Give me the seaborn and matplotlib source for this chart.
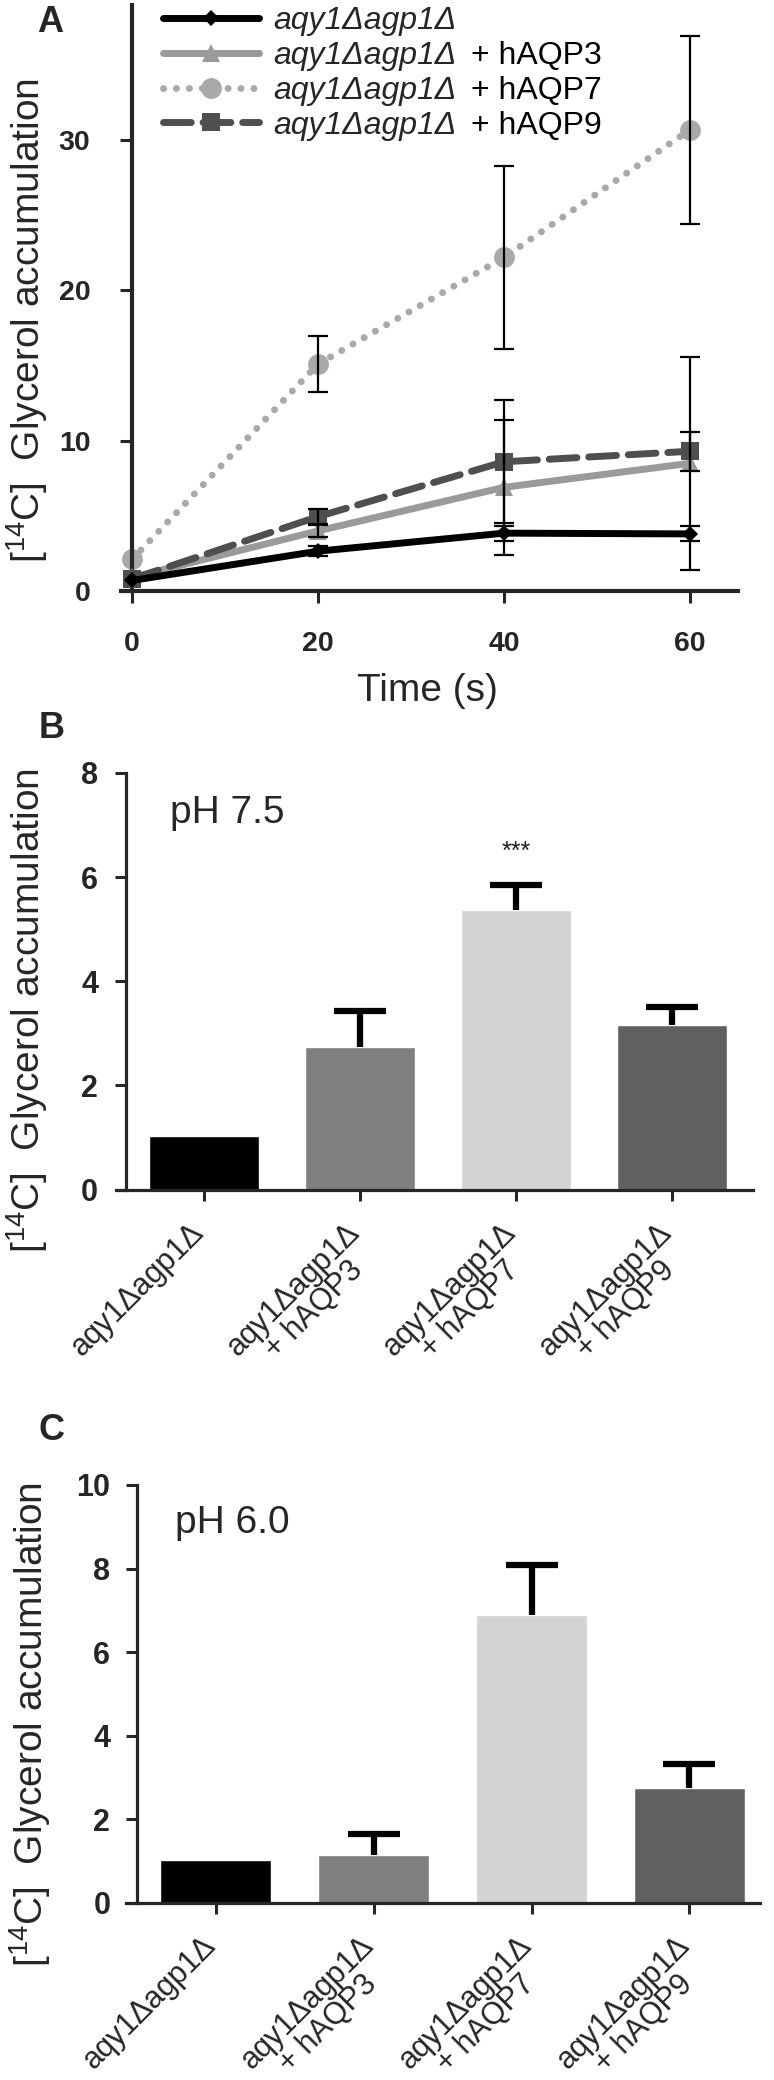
import matplotlib
matplotlib.use("Agg")
import matplotlib.pyplot as plt
import seaborn as sns
import numpy as np
from matplotlib.offsetbox import TextArea
from matplotlib.transforms import ScaledTranslation

# ---------------- data ----------------
time_s = [0, 20, 40, 60]
strain_base = "aqy1Δagp1Δ"
suffixes = ["", "+ hAQP3", "+ hAQP7", "+ hAQP9"]

ctrl_vals = [0.7, 2.65, 3.85, 3.8]
ctrl_err = [0.0, 0.35, 0.5, 0.5]
aqp3_vals = [0.9, 4.0, 6.9, 8.5]
aqp3_err = [0.0, 0.4, 4.5, 7.1]
aqp7_vals = [2.1, 15.1, 22.2, 30.7]
aqp7_err = [0.0, 1.85, 6.1, 6.25]
aqp9_vals = [0.8, 4.95, 8.6, 9.3]
aqp9_err = [0.0, 0.5, 4.1, 1.3]

bar_labels = ["aqy1Δagp1Δ", "aqy1Δagp1Δ\n+ hAQP3", "aqy1Δagp1Δ\n+ hAQP7", "aqy1Δagp1Δ\n+ hAQP9"]
ph75_vals = [1.03, 2.73, 5.37, 3.16]
ph75_err = [0.0, 0.69, 0.47, 0.35]
ph60_vals = [1.04, 1.15, 6.9, 2.76]
ph60_err = [0.0, 0.5, 1.18, 0.57]

ylab = r"[$^{14}$C]  Glycerol accumulation"

# ---------------- style ----------------
sns.set_theme(style="ticks")
plt.rcParams["font.family"] = ["Liberation Sans", "DejaVu Sans"]
plt.rcParams["mathtext.fontset"] = "custom"
plt.rcParams["mathtext.rm"] = "Liberation Sans"
plt.rcParams["mathtext.it"] = "Liberation Sans:italic"
plt.rcParams["mathtext.bf"] = "Liberation Sans:bold"

W, H = 774, 2080
fig = plt.figure(figsize=(W / 100, H / 100), dpi=100)
fig.patch.set_facecolor("white")
R = fig.canvas.get_renderer()


def px_axes(left, top, right, bottom):
    return fig.add_axes([left / W, 1 - bottom / H, (right - left) / W, (bottom - top) / H])


# ---------------- panel A ----------------
axA = px_axes(121, 5, 738, 591)
series = [
    (ctrl_vals, ctrl_err, dict(color="#000000", marker="D", markersize=8.5, linestyle="-"), 5),
    (aqp3_vals, aqp3_err, dict(color="#9a9a9a", marker="^", markersize=13, linestyle="-"), 3),
    (aqp7_vals, aqp7_err, dict(color="#a9a9a9", marker="o", markersize=15, linestyle=(0, (0.01, 1.85))), 2),
    (aqp9_vals, aqp9_err, dict(color="#4f4f4f", marker="s", markersize=13, linestyle=(0, (4.0, 1.7))), 4),
]
handles = []
for vals, errs, st, z in series:
    sns.lineplot(x=time_s, y=vals, ax=axA, linewidth=5, markeredgewidth=0,
                 zorder=z, clip_on=False, errorbar=None, **st)
    ln = axA.lines[-1]
    ln.set_dash_capstyle("round")
    handles.append(ln)
for vals, errs, st, z in series:
    idx = [i for i, e in enumerate(errs) if e > 0]
    axA.errorbar([time_s[i] for i in idx], [vals[i] for i in idx],
                 yerr=[errs[i] for i in idx], fmt="none", ecolor="black",
                 elinewidth=1.6, capsize=7, capthick=1.6, zorder=4.5, clip_on=False)

axA.set_xlim(-1.18, 65.16)
axA.set_ylim(0, 39)
axA.spines["left"].set_position(("data", 0))
axA.spines[["top", "right"]].set_visible(False)
for s in ["left", "bottom"]:
    axA.spines[s].set_linewidth(3)
axA.set_xticks([0, 20, 40, 60])
axA.set_yticks([0, 10, 20, 30])
axA.tick_params(axis="both", width=2.2, length=8.5, labelsize=20.5, direction="out")
axA.tick_params(axis="y", pad=21.5)
axA.tick_params(axis="x", pad=20)
for lab in axA.get_xticklabels() + axA.get_yticklabels():
    lab.set_fontweight("bold")
axA.set_xlabel("")
axA.set_ylabel("")
fig.text(427 / W, 1 - 691 / H, "Time (s)", ha="center", va="center", fontsize=28)

anchor = [160 / W, 1 - 1 / H]
leg = axA.legend(handles=handles, labels=[strain_base] * 4, loc="upper left",
                 bbox_to_anchor=tuple(anchor), bbox_transform=fig.transFigure,
                 frameon=False, borderpad=0, borderaxespad=0, handlelength=3.0,
                 handletextpad=0.45, labelspacing=0.1, numpoints=1,
                 prop=dict(family="Liberation Sans", style="italic", size=23))
vp = None
try:
    vp = leg._legend_handle_box.get_children()[0]
    rows = vp.get_children()
    for row, suf in zip(rows, suffixes):
        if suf:
            ta = TextArea(suf, textprops=dict(family="Liberation Sans", size=23, color="black"))
            ta.set_figure(fig)
            row.get_children().append(ta)
except Exception:
    vp = None

# ---------------- bar panels ----------------
bar_colors = ["#000000", "#808080", "#d3d3d3", "#606060"]
XT_SIZE = 22
XT_LEN = 8        # tick length, pt
XT_PAD = 12       # tick label pad, pt
XT_SHIFT = -15    # px, horizontal shift of the rotated labels
LINE_PITCH = 29   # px between the two label lines

line1 = [l.split("\n")[0] for l in bar_labels]
line2 = [l.split("\n")[1] if "\n" in l else "" for l in bar_labels]
_tmp = fig.text(0, 0, line1[0], fontsize=XT_SIZE)
W1 = _tmp.get_window_extent(R).width
_tmp.remove()


def bar_panel(ax, vals, errs, ymax, yticks, xlim, ypad):
    sns.barplot(x=bar_labels, y=vals, hue=bar_labels, palette=bar_colors, width=0.7,
                saturation=1, errorbar=None, legend=False, ax=ax, zorder=2)
    idx = [i for i, e in enumerate(errs) if e > 0]
    base = [vals[i] for i in idx]
    eb = ax.errorbar(idx, base,
                     yerr=[[0] * len(idx), [errs[i] for i in idx]], fmt="none",
                     ecolor="black", elinewidth=4.5, capsize=18.5, capthick=4.5, zorder=3)
    for cl in eb.lines[1]:
        if np.allclose(cl.get_ydata(), base):
            cl.set_visible(False)
    ax.set_xlim(*xlim)
    ax.set_ylim(0, ymax)
    ax.spines["left"].set_position(("data", -0.5))
    ax.spines[["top", "right"]].set_visible(False)
    for s in ["left", "bottom"]:
        ax.spines[s].set_linewidth(2.3)
    ax.set_yticks(yticks)
    ax.set_xticks(range(4))
    ax.set_xticklabels(line1, rotation=45, ha="right", va="top",
                       rotation_mode="anchor", fontsize=XT_SIZE)
    ax.tick_params(axis="both", width=2.2, length=XT_LEN, direction="out")
    ax.tick_params(axis="y", labelsize=22, pad=ypad)
    ax.tick_params(axis="x", pad=XT_PAD)
    for lab in ax.get_yticklabels():
        lab.set_fontweight("bold")
    off = ScaledTranslation(XT_SHIFT / 100, 0, fig.dpi_scale_trans)
    for lab in ax.get_xticklabels():
        lab.set_transform(lab.get_transform() + off)
    # second label line, centred under the first one (rotated frame)
    c = np.sqrt(0.5)
    dx = XT_SHIFT - c * W1 / 2 + c * LINE_PITCH
    dy = -(XT_LEN + XT_PAD) * 100 / 72 - c * W1 / 2 - c * LINE_PITCH
    tr = ax.get_xaxis_transform() + ScaledTranslation(dx / 100, dy / 100, fig.dpi_scale_trans)
    for i, s in enumerate(line2):
        if s:
            ax.text(i, 0, s, transform=tr, rotation=45, rotation_mode="anchor",
                    ha="center", va="top", fontsize=XT_SIZE)
    ax.set_xlabel("")
    ax.set_ylabel("")


axB = px_axes(116, 773, 753, 1189.5)
bar_panel(axB, ph75_vals, ph75_err, 8, [0, 2, 4, 6, 8], (-0.564, 3.519), 12)
axB.text(-0.22, 7.24, "pH 7.5", ha="left", va="center", fontsize=28)
axB.text(2, 6.49, "***", ha="center", va="center", fontsize=18, color="#222222")

axC = px_axes(126, 1485, 760, 1903)
bar_panel(axC, ph60_vals, ph60_err, 10, [0, 2, 4, 6, 8, 10], (-0.568, 3.447), 11)
axC.text(-0.258, 9.08, "pH 6.0", ha="left", va="center", fontsize=28)

# ---------------- labels ----------------
for (x, y, s) in [(50, 22, "A"), (52, 729, "B"), (52, 1431, "C")]:
    fig.text(x / W, 1 - y / H, s, ha="center", va="center", fontsize=26, fontweight="bold")
for (x, y) in [(27, 321), (27, 1011), (30, 1725)]:
    fig.text(x / W, 1 - y / H, ylab, rotation=90, ha="center", va="center", fontsize=28)

# ---------------- legend calibration (row pitch 35 px, first handle at 18.3 px) ----------------
try:
    r = None

    def handle_centers():
        return [(h.get_window_extent(r).y0 + h.get_window_extent(r).y1) / 2 for h in leg.legend_handles]

    for _ in range(2):
        fig.canvas.draw()
        r = fig.canvas.get_renderer()
        if vp is not None:
            cy = handle_centers()
            pitch = (cy[0] - cy[-1]) / 3
            vp.sep += (35 - pitch)
        fig.canvas.draw()
        cy = handle_centers()
        tx0 = leg.get_texts()[0].get_window_extent(r).x0
        dxl = 273 - tx0
        dyl = (H - 18.3) - cy[0]
        anchor = [anchor[0] + dxl / W, anchor[1] + dyl / H]
        leg.set_bbox_to_anchor(tuple(anchor), transform=fig.transFigure)
except Exception:
    pass

fig.savefig("out.png", dpi=100, facecolor="white")
